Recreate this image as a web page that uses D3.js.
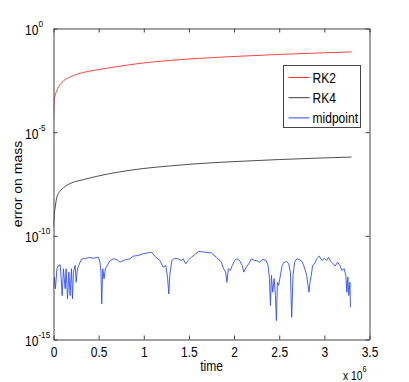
<!DOCTYPE html>
<html>
<head>
<meta charset="utf-8">
<script src="https://cdn.jsdelivr.net/npm/d3@7.9.0/dist/d3.min.js"></script>
<style>
  body { margin: 0; background: #fff; }
  svg { display: block; font-family: "Liberation Sans", Arial, sans-serif; }
</style>
</head>
<body>
<svg id="chart"></svg>
<script>
// time is in units of 1e6, errors are stored as log10 exponents
const curveTime = [0, 0.008, 0.019, 0.038, 0.074, 0.110, 0.184, 0.331, 0.50, 0.70, 1.0, 1.288, 1.5, 2.0, 2.5, 3.0, 3.3];
const rk2Exp = [-4.34, -3.46, -3.22, -2.98, -2.69, -2.53, -2.34, -2.12, -1.98, -1.84, -1.66, -1.54, -1.47, -1.35, -1.25, -1.17, -1.13];
const rk4Exp = [-9.55, -9.0, -8.61, -8.13, -7.84, -7.68, -7.48, -7.29, -7.11, -6.94, -6.75, -6.63, -6.55, -6.42, -6.32, -6.24, -6.20];

const midTime = [0.000, 0.011, 0.022, 0.038, 0.055, 0.074, 0.085, 0.096, 0.110, 0.129, 0.140, 0.155, 0.170, 0.184, 0.199, 0.210,
  0.221, 0.240, 0.251, 0.265, 0.280, 0.295, 0.313, 0.350, 0.386, 0.441, 0.497, 0.515, 0.526, 0.534, 0.545, 0.560, 0.574, 0.596,
  0.626, 0.662, 0.700, 0.736, 0.773, 0.810, 0.847, 0.883, 0.938, 0.993, 1.049, 1.086, 1.122, 1.178, 1.214, 1.244, 1.263, 1.277,
  1.288, 1.310, 1.343, 1.380, 1.417, 1.435, 1.465, 1.490, 1.528, 1.564, 1.611, 1.674, 1.748, 1.803, 1.859, 1.884, 1.906, 1.921,
  1.936, 1.958, 1.980, 2.006, 2.031, 2.061, 2.090, 2.108, 2.135, 2.163, 2.190, 2.226, 2.245, 2.281, 2.318, 2.355, 2.377, 2.392,
  2.403, 2.414, 2.428, 2.444, 2.458, 2.469, 2.480, 2.494, 2.510, 2.532, 2.557, 2.583, 2.605, 2.624, 2.638, 2.653, 2.671, 2.693,
  2.723, 2.753, 2.778, 2.804, 2.819, 2.830, 2.841, 2.855, 2.870, 2.892, 2.914, 2.944, 2.973, 2.999, 3.024, 3.046, 3.073, 3.098,
  3.120, 3.146, 3.172, 3.194, 3.220, 3.238, 3.249, 3.260, 3.271, 3.283, 3.289];
const midExp = [-12.55, -11.99, -12.55, -11.59, -11.43, -11.40, -12.07, -12.88, -11.59, -12.55, -11.59, -13.04, -11.75, -12.88, -11.59, -13.04,
  -11.75, -11.43, -12.24, -11.59, -11.43, -11.27, -11.11, -11.11, -11.04, -11.08, -11.03, -11.27, -11.75, -13.28, -11.59, -12.07, -11.59, -11.43,
  -11.19, -11.11, -11.14, -11.27, -11.19, -11.14, -11.11, -10.98, -10.95, -10.86, -10.82, -10.79, -10.98, -11.19, -11.51, -11.43, -11.99, -12.80,
  -11.91, -11.19, -11.08, -11.11, -11.19, -11.11, -11.35, -11.19, -11.03, -10.91, -10.75, -10.79, -10.82, -11.03, -11.27, -11.59, -11.75, -12.24,
  -11.59, -11.67, -11.43, -11.19, -11.11, -11.19, -11.43, -11.75, -11.51, -11.35, -11.11, -11.19, -11.19, -11.27, -11.14, -11.19, -11.43, -12.07,
  -13.36, -11.91, -12.72, -12.07, -12.88, -14.09, -12.24, -12.39, -11.99, -11.43, -11.27, -11.24, -11.35, -11.75, -13.93, -11.91, -11.27, -11.11,
  -11.14, -11.24, -11.51, -11.91, -12.39, -12.72, -12.24, -11.91, -11.43, -11.35, -11.11, -10.98, -11.19, -11.08, -11.19, -11.03, -11.24, -11.35,
  -11.46, -11.27, -11.43, -11.67, -11.59, -11.91, -12.72, -11.99, -12.88, -12.24, -13.44];

const xTicks = [0, 0.5, 1, 1.5, 2, 2.5, 3, 3.5];
const xTickLabels = ["0", "0.5", "1", "1.5", "2", "2.5", "3", "3.5"];
const yTickExps = [0, -5, -10, -15];
const seriesNames = ["RK2", "RK4", "midpoint"];

const colors = { RK2: "#ff3030", RK4: "#3a3a3a", midpoint: "#2f4dff" };
const axisColor = "#444";
const squash = "scale(0.86,1)";

const W = 409, H = 382;
const margin = { top: 28.5, right: 39.5, bottom: 42.5, left: 53.5 },
      width = W - margin.left - margin.right,
      height = H - margin.top - margin.bottom;

const svg = d3.select("#chart").attr("width", W).attr("height", H);
const g = svg.append("g").attr("transform", `translate(${margin.left},${margin.top})`);

const x = d3.scaleLinear().domain([0, 3.5]).range([0, width]);
const y = d3.scaleLog().domain([1e-15, 1]).range([height, 0]);

g.append("clipPath").attr("id", "plotclip")
  .append("rect").attr("width", width).attr("height", height);

// lines
const curveSeries = [
  { name: "RK2", values: curveTime.map((t, i) => ({ t, v: Math.pow(10, rk2Exp[i]) })) },
  { name: "RK4", values: curveTime.map((t, i) => ({ t, v: Math.pow(10, rk4Exp[i]) })) }
];
const midSeries = { name: "midpoint", values: midTime.map((t, i) => ({ t, v: Math.pow(10, midExp[i]) })) };

const smoothLine = d3.line().x(d => x(d.t)).y(d => y(d.v)).curve(d3.curveMonotoneX);
const rawLine = d3.line().x(d => x(d.t)).y(d => y(d.v));

const plot = g.append("g").attr("clip-path", "url(#plotclip)");
plot.selectAll("path.curve")
  .data(curveSeries)
  .join("path")
  .attr("class", "curve")
  .attr("d", d => smoothLine(d.values))
  .attr("fill", "none")
  .attr("stroke", d => colors[d.name])
  .attr("stroke-width", 0.9);

plot.append("path")
  .attr("d", rawLine(midSeries.values))
  .attr("fill", "none")
  .attr("stroke", colors.midpoint)
  .attr("stroke-width", 0.9)
  .attr("stroke-linejoin", "round");

// axes (ticks point inward, box all round)
const yTickVals = yTickExps.map(e => Math.pow(10, e));

const xBottom = g.append("g")
  .attr("transform", `translate(0,${height})`)
  .call(d3.axisBottom(x).tickValues(xTicks).tickFormat((d, i) => xTickLabels[i])
    .tickSize(-4).tickSizeOuter(0).tickPadding(8));
g.append("g")
  .call(d3.axisTop(x).tickValues(xTicks).tickFormat("").tickSize(-4).tickSizeOuter(0));
const yLeft = g.append("g")
  .call(d3.axisLeft(y).tickValues(yTickVals).tickFormat("").tickSize(-4).tickSizeOuter(0));
g.append("g")
  .attr("transform", `translate(${width},0)`)
  .call(d3.axisRight(y).tickValues(yTickVals).tickFormat("").tickSize(-4).tickSizeOuter(0));

g.selectAll(".domain, .tick line").attr("stroke", axisColor);

xBottom.selectAll("text")
  .attr("font-size", 14)
  .attr("font-family", "Liberation Sans, Arial, sans-serif")
  .attr("fill", "#000")
  .attr("transform", squash);

// y tick labels as 10^n
yLeft.selectAll(".tick").each(function (d, i) {
  const t = d3.select(this).append("text")
    .attr("transform", `translate(${25 - margin.left},6) ${squash}`)
    .attr("text-anchor", "start")
    .attr("fill", "#000")
    .attr("font-size", 14)
    .attr("font-family", "Liberation Sans, Arial, sans-serif");
  t.append("tspan").text("10");
  t.append("tspan").attr("dy", -8).attr("font-size", 9.5).text(yTickExps[i]);
});

// axis labels
g.append("text")
  .attr("transform", `translate(${width / 2},${H - margin.top - 11.5}) ${squash}`)
  .attr("text-anchor", "middle")
  .attr("font-size", 14)
  .text("time");

const mult = g.append("text")
  .attr("transform", `translate(${343 - margin.left},${H - margin.top - 2.5}) ${squash}`)
  .attr("font-size", 12);
mult.append("tspan").text("x 10");
mult.append("tspan").attr("dy", -8).attr("font-size", 8.5).text("6");

g.append("text")
  .attr("transform", `translate(${17.5 - margin.left + 4},${height / 2}) ${squash} rotate(-90)`)
  .attr("text-anchor", "middle")
  .attr("font-size", 14)
  .text("error on mass");

// legend
const legend = g.append("g").attr("transform", `translate(${283.5 - margin.left},${65.5 - margin.top})`);
legend.append("rect")
  .attr("width", 77).attr("height", 62)
  .attr("fill", "#fff").attr("stroke", axisColor);

const rows = legend.selectAll("g.row")
  .data(seriesNames)
  .join("g")
  .attr("class", "row")
  .attr("transform", (d, i) => `translate(0,${12 + i * 20.2})`);

rows.append("line")
  .attr("x1", 5).attr("x2", 26)
  .attr("stroke", d => colors[d]).attr("stroke-width", 1);

rows.append("text")
  .attr("transform", `translate(29,5) ${squash}`)
  .attr("font-size", 14)
  .text(d => d);
</script>
</body>
</html>
